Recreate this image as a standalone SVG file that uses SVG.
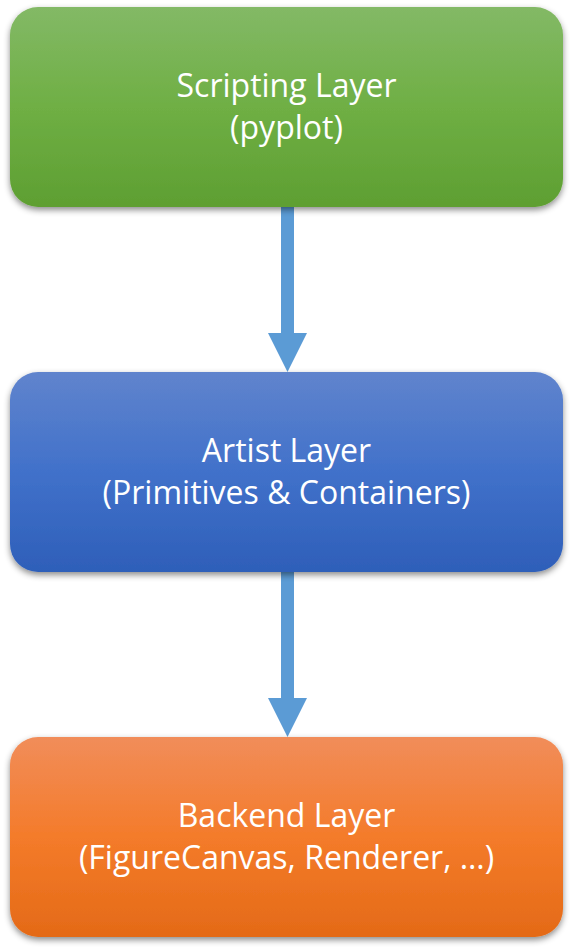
<svg xmlns="http://www.w3.org/2000/svg" width="573" height="950" viewBox="0 0 573 950">
<style>
.box{filter:url(#sh);}
.lbl{font-family:"Open Sans","Noto Sans","Liberation Sans",sans-serif;font-size:32px;fill:#ffffff;text-anchor:middle;}
.arr{fill:#5b9bd5;}
</style>
<defs>
<linearGradient id="gGreen" x1="0" y1="0" x2="0" y2="1">
<stop offset="0" stop-color="#83b966"/>
<stop offset="0.5" stop-color="#6faf44"/>
<stop offset="1" stop-color="#5e9f32"/>
</linearGradient>
<linearGradient id="gBlue" x1="0" y1="0" x2="0" y2="1">
<stop offset="0" stop-color="#6084cd"/>
<stop offset="0.5" stop-color="#4171ca"/>
<stop offset="1" stop-color="#2e5fb9"/>
</linearGradient>
<linearGradient id="gOrange" x1="0" y1="0" x2="0" y2="1">
<stop offset="0" stop-color="#f18d5a"/>
<stop offset="0.5" stop-color="#f47b2a"/>
<stop offset="1" stop-color="#e46a17"/>
</linearGradient>
<filter id="sh" x="-5%" y="-10%" width="110%" height="125%">
<feDropShadow dx="0" dy="3" stdDeviation="3" flood-color="#000" flood-opacity="0.45"/>
</filter>
</defs>
<g id="connectors">
<path class="arr" d="M281 207 H294 V333 H307 L287.5 372 L268 333 H281 Z"/>
<path class="arr" d="M281 572 H294 V698 H307 L287.5 737 L268 698 H281 Z"/>
</g>
<g id="scripting">
<rect class="box" x="10" y="7" width="553" height="200" rx="28" ry="28" fill="url(#gGreen)"/>
<text class="lbl" x="286.5" y="97">Scripting Layer</text>
<text class="lbl" x="286.5" y="139">(pyplot)</text>
</g>
<g id="artist">
<rect class="box" x="10" y="372" width="553" height="200" rx="28" ry="28" fill="url(#gBlue)"/>
<text class="lbl" x="286.5" y="462">Artist Layer</text>
<text class="lbl" x="286.5" y="504">(Primitives &amp; Containers)</text>
</g>
<g id="backend">
<rect class="box" x="10" y="737" width="553" height="200" rx="28" ry="28" fill="url(#gOrange)"/>
<text class="lbl" x="286.5" y="827">Backend Layer</text>
<text class="lbl" x="286.5" y="869">(FigureCanvas, Renderer, …)</text>
</g>
</svg>
